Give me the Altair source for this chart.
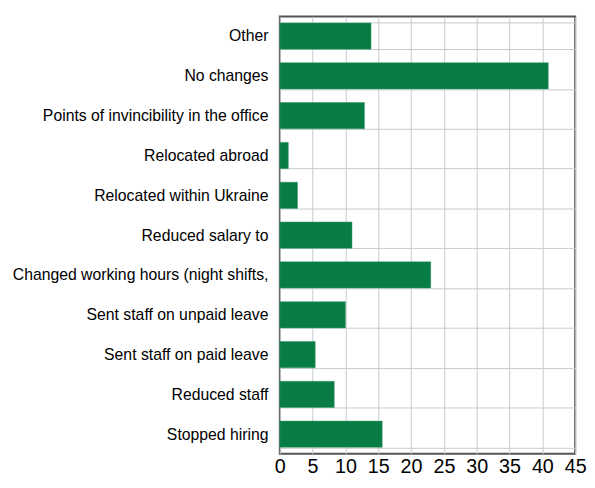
import altair as alt
import pandas as pd

categories = [
    "Other",
    "No changes",
    "Points of invincibility in the office",
    "Relocated abroad",
    "Relocated within Ukraine",
    "Reduced salary to",
    "Changed working hours (night shifts,",
    "Sent staff on unpaid leave",
    "Sent staff on paid leave",
    "Reduced staff",
    "Stopped hiring",
]
values = [13.9, 40.9, 12.9, 1.3, 2.7, 11.0, 23.0, 10.0, 5.4, 8.3, 15.6]
x_ticks = [0, 5, 10, 15, 20, 25, 30, 35, 40, 45]

df = pd.DataFrame({"category": categories, "value": values})

chart = (
    alt.Chart(df)
    .mark_bar(color="#077d45", stroke="#3a9a66", strokeWidth=0.5)
    .encode(
        x=alt.X(
            "value:Q",
            scale=alt.Scale(domain=[0, 45], nice=False),
            axis=alt.Axis(
                values=x_ticks,
                title=None,
                ticks=False,
                domain=False,
                labelFontSize=20,
                labelFont="Liberation Sans",
                labelColor="#000000",
                labelPadding=3,
                labelOverlap=False,
                labelFlush=False,
                gridColor="#c5cbd0",
                gridWidth=1,
            ),
        ),
        y=alt.Y(
            "category:N",
            sort=categories,
            scale=alt.Scale(paddingInner=0.34, paddingOuter=0.16),
            axis=alt.Axis(
                title=None,
                tickBand="extent",
                ticks=False,
                domain=False,
                labelFontSize=16,
                labelFont="Liberation Sans",
                labelColor="#000000",
                labelLimit=400,
                labelPadding=12,
                labelOverlap=False,
                gridColor="#c5cbd0",
                gridWidth=1,
            ),
        ),
    )
    .properties(width=300, height=444, padding={"left": 4, "top": -3, "right": 0, "bottom": 0})
    .configure_view(stroke="#555555", strokeWidth=2)
    .configure_axis(grid=True)
)

chart.save("out.html", embed_options={"renderer": "svg", "actions": False})
